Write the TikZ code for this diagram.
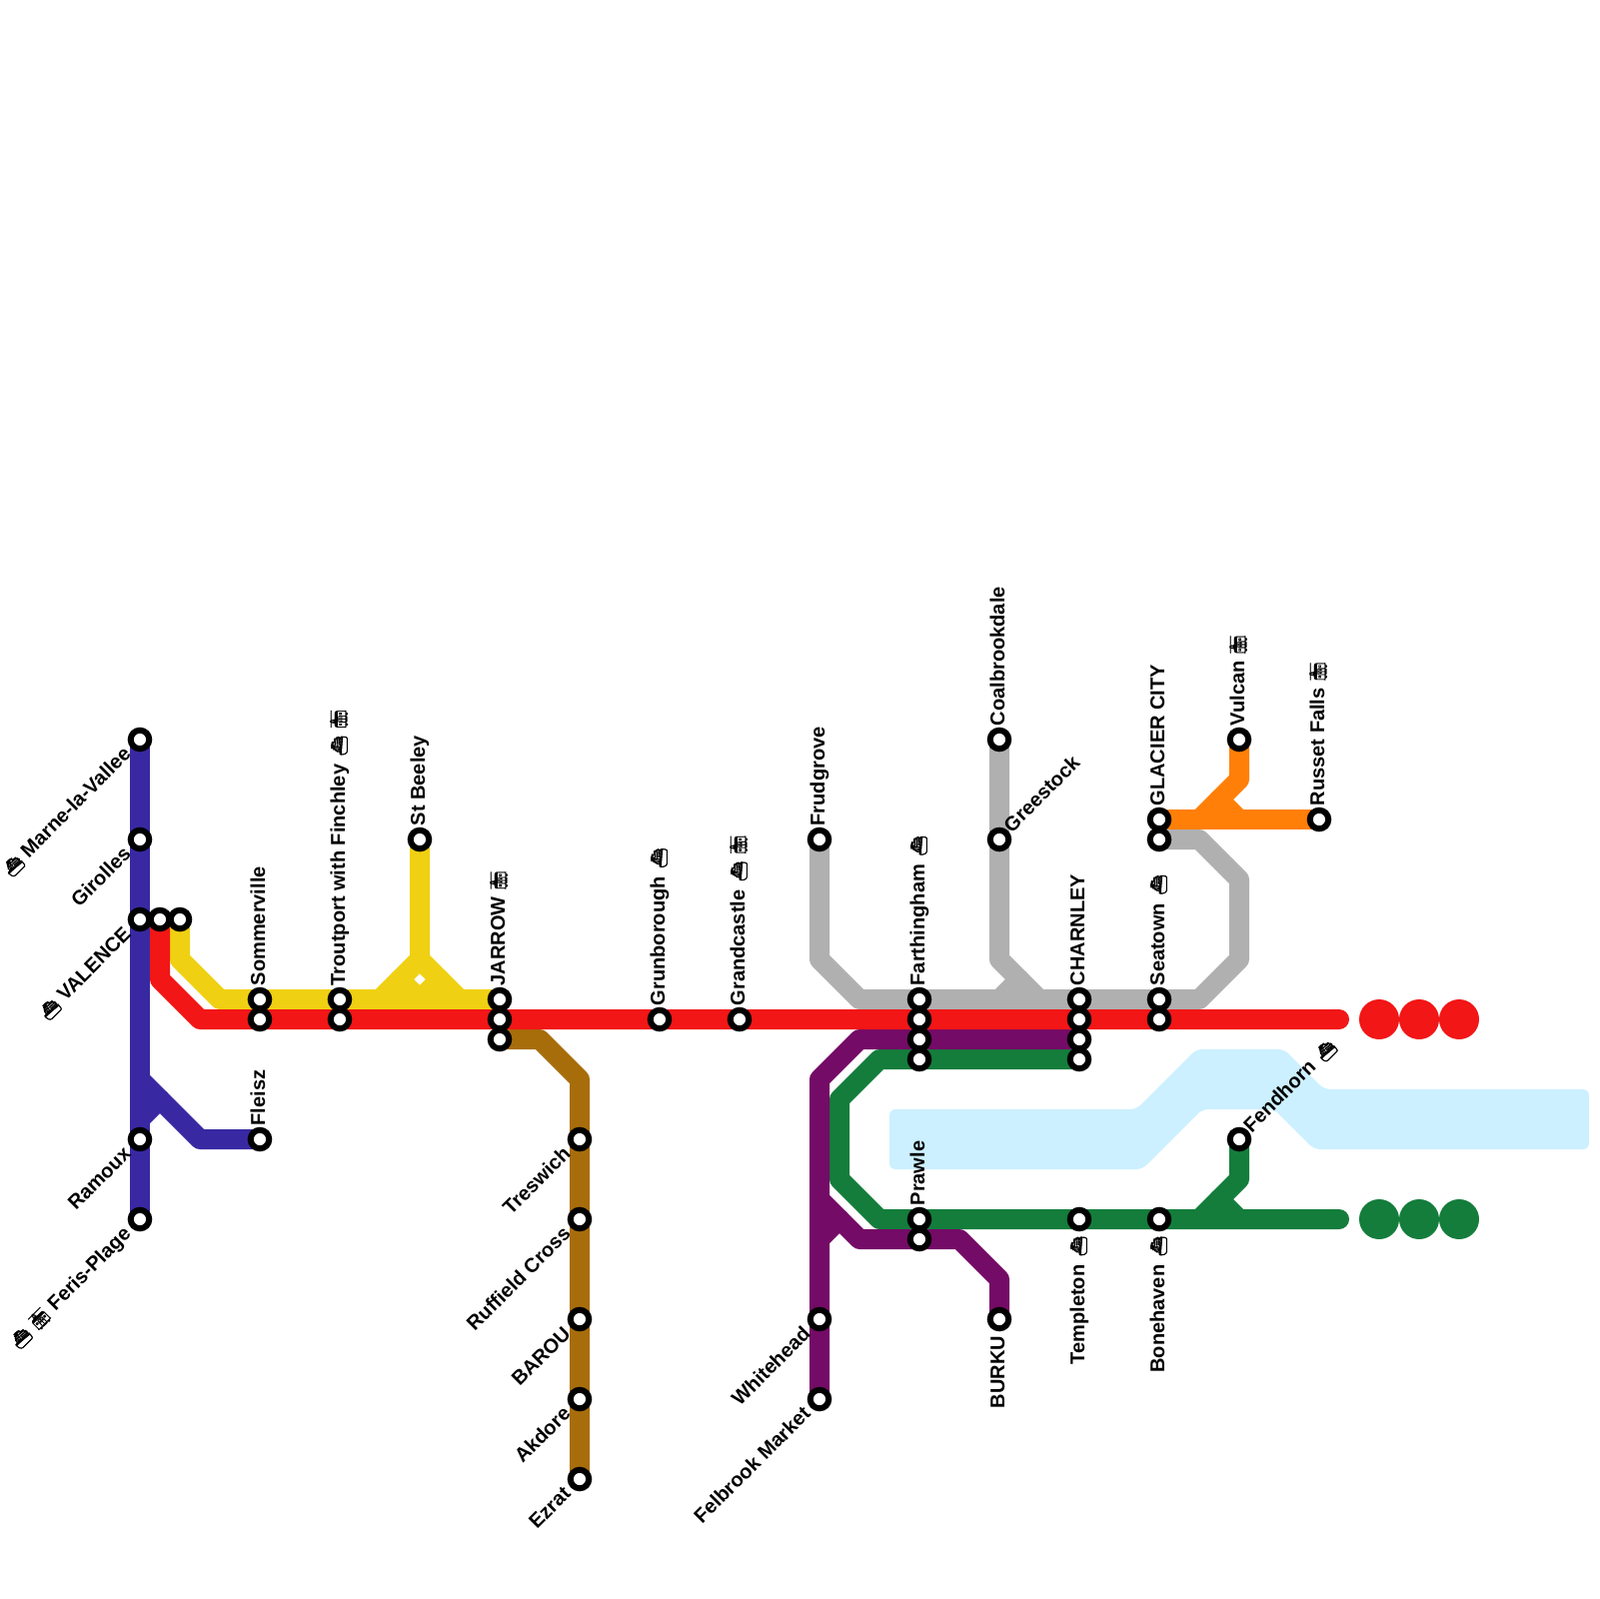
\documentclass[tikz,border=0pt]{standalone}
\usepackage{fontspec}
\usepackage{xcolor}
\usepackage{tikz}
\usetikzlibrary{positioning,backgrounds}
\setmainfont{Liberation Sans}
\newfontfamily\shipfont[FakeBold=2.5,Scale=0.8]{Noto Emoji}
\newfontfamily\tramfont[FakeBold=1,Scale=0.85]{Noto Emoji}
\definecolor{LineBlue}{HTML}{3829A3}
\definecolor{LineRed}{HTML}{F21616}
\definecolor{LineYellow}{HTML}{F0D012}
\definecolor{LineBrown}{HTML}{A86D0B}
\definecolor{LineGrey}{HTML}{B0B0B0}
\definecolor{LineOrange}{HTML}{FF7F08}
\definecolor{LineGreen}{HTML}{147D3C}
\definecolor{LinePurple}{HTML}{740B66}
\definecolor{Water}{HTML}{CCF0FF}
\newcommand{\ferry}{\kern0.3mm{\shipfont ⛴}}
\newcommand{\tram}{{\tramfont 🚋}}
\pgfdeclarelayer{lines}
\pgfsetlayers{lines,main}

\begin{document}
\begin{tikzpicture}[
  x=0.1mm,y=-0.1mm,
  stn/.style={circle,draw=black,fill=white,line width=0.6mm,minimum size=1.85mm,inner sep=0pt},
  tube/.style={line width=2mm,line cap=round,line join=round},
  dot/.style={circle,minimum size=4mm,inner sep=0pt,outer sep=0pt},
  lab/.style={font=\fontsize{5.7}{6.8}\selectfont\bfseries,inner sep=0pt},
  uplab/.style={lab,xshift=0.5mm,yshift=1.3mm,rotate=90,anchor=base west},
  downlab/.style={lab,xshift=0.5mm,yshift=-1.6mm,rotate=90,anchor=base east},
  dllab/.style={lab,xshift=-0.75mm,yshift=-1.55mm,rotate=45,anchor=base east},
  urlab/.style={lab,xshift=1.2mm,yshift=0.55mm,rotate=45,anchor=base west}
]
\useasboundingbox (0,0) rectangle (1600,1600);
% stations
\node[stn] (marne) at (140,740) {};
\node[stn] (girolles) at (140,840) {};
\node[stn] (valence) at (140,920) {};
\node[stn] (ramoux) at (140,1140) {};
\node[stn] (feris) at (140,1220) {};
\node[stn] (valred) at (160,920) {};
\node[stn] (valyel) at (180,920) {};
\node[stn] (fleisz) at (260,1140) {};
\node[stn] (somyel) at (260,1000) {};
\node[stn] (somred) at (260,1020) {};
\node[stn] (troyel) at (340,1000) {};
\node[stn] (trored) at (340,1020) {};
\node[stn] (beeley) at (420,840) {};
\node[stn] (jaryel) at (500,1000) {};
\node[stn] (jarred) at (500,1020) {};
\node[stn] (jarbrn) at (500,1040) {};
\node[stn] (grunb) at (660,1020) {};
\node[stn] (grand) at (740,1020) {};
\node[stn] (treswich) at (580,1140) {};
\node[stn] (ruffield) at (580,1220) {};
\node[stn] (barou) at (580,1320) {};
\node[stn] (akdore) at (580,1400) {};
\node[stn] (ezrat) at (580,1480) {};
\node[stn] (frud) at (820,840) {};
\node[stn] (whitehd) at (820,1320) {};
\node[stn] (felbrook) at (820,1400) {};
\node[stn] (fargry) at (920,1000) {};
\node[stn] (farred) at (920,1020) {};
\node[stn] (farpur) at (920,1040) {};
\node[stn] (fargrn) at (920,1060) {};
\node[stn] (prawgrn) at (920,1220) {};
\node[stn] (prawpur) at (920,1240) {};
\node[stn] (coal) at (1000,740) {};
\node[stn] (greest) at (1000,840) {};
\node[stn] (burku) at (1000,1320) {};
\node[stn] (chagry) at (1080,1000) {};
\node[stn] (chared) at (1080,1020) {};
\node[stn] (chapur) at (1080,1040) {};
\node[stn] (chagrn) at (1080,1060) {};
\node[stn] (templ) at (1080,1220) {};
\node[stn] (glaora) at (1160,820) {};
\node[stn] (glagry) at (1160,840) {};
\node[stn] (seagry) at (1160,1000) {};
\node[stn] (seared) at (1160,1020) {};
\node[stn] (bone) at (1160,1220) {};
\node[stn] (vulcan) at (1240,740) {};
\node[stn] (fend) at (1240,1140) {};
\node[stn] (russet) at (1320,820) {};
% line ends and forks
\coordinate (redend) at (1340,1020);
\coordinate (grnend) at (1340,1220);
\coordinate (blufork) at (140,1080);
\coordinate (blustub) at (140,1120);
\coordinate (yelfork) at (420,960);
\coordinate (yelstub) at (420,1000);
\coordinate (gryfork) at (1000,960);
\coordinate (grystub) at (1000,1000);
\coordinate (orastub) at (1240,820);
\coordinate (grnstub) at (1240,1220);
\coordinate (purfork) at (820,1200);
\coordinate (purstub) at (820,1240);
\begin{pgfonlayer}{lines}
\fill[Water,rounded corners=0.6mm] (890,1110) -- (1137,1110) -- (1197,1050) -- (1285,1050) -- (1325,1090) -- (1590,1090) -- (1590,1150) -- (1315,1150) -- (1275,1110) -- (1203,1110) -- (1143,1170) -- (890,1170) -- cycle;
% blue
\draw[tube,LineBlue] (marne.center) -- (feris.center);
\draw[tube,LineBlue] (blufork) -- ++(60,60) -- (fleisz.center);
\draw[tube,LineBlue] (blustub) -- ++(20,-20);
% yellow
\draw[tube,LineYellow] (valyel.center) -- ++(0,40) -- ++(40,40) -- (jaryel.center);
\draw[tube,LineYellow] (beeley.center) -- (yelfork) -- ++(-40,40);
\draw[tube,LineYellow] (yelfork) -- ++(40,40);
\draw[tube,LineYellow] (yelstub) -- ++(-20,-20);
\draw[tube,LineYellow] (yelstub) -- ++(20,-20);
% brown
\draw[tube,LineBrown] (jarbrn.center) -- ++(40,0) -- ++(40,40) -- (ezrat.center);
% grey
\draw[tube,LineGrey] (frud.center) -- ++(0,120) -- ++(40,40) -- ++(340,0) -- ++(40,-40) -- ++(0,-80) -- ++(-40,-40) -- (glagry.center);
\draw[tube,LineGrey] (coal.center) -- (gryfork) -- ++(40,40);
\draw[tube,LineGrey] (grystub) -- ++(20,-20);
% orange
\draw[tube,LineOrange] (glaora.center) -- (russet.center);
\draw[tube,LineOrange] (vulcan.center) -- ++(0,40) -- ++(-40,40);
\draw[tube,LineOrange] (orastub) -- ++(-20,-20);
% green
\draw[tube,LineGreen] (chagrn.center) -- ++(-200,0) -- ++(-40,40) -- ++(0,80) -- ++(40,40) -- (grnend);
\draw[tube,LineGreen] (fend.center) -- ++(0,40) -- ++(-40,40);
\draw[tube,LineGreen] (grnstub) -- ++(-20,-20);
% purple
\draw[tube,LinePurple] (chapur.center) -- ++(-220,0) -- ++(-40,40) -- (felbrook.center);
\draw[tube,LinePurple] (purfork) -- ++(40,40) -- ++(100,0) -- ++(40,40) -- (burku.center);
\draw[tube,LinePurple] (purstub) -- ++(20,-20);
% red
\draw[tube,LineRed] (valred.center) -- ++(0,60) -- ++(40,40) -- (redend);
\end{pgfonlayer}
\node[dot,fill=LineRed] (reddot1) at (1380,1020) {};
\node[dot,fill=LineRed,right=0mm of reddot1] (reddot2) {};
\node[dot,fill=LineRed,right=0mm of reddot2] (reddot3) {};
\node[dot,fill=LineGreen] (grndot1) at (1380,1220) {};
\node[dot,fill=LineGreen,right=0mm of grndot1] (grndot2) {};
\node[dot,fill=LineGreen,right=0mm of grndot2] (grndot3) {};
% labels
\node[dllab] (marnel) at (marne) {\ferry{} Marne-la-Vallee};
\node[dllab] (girollesl) at (girolles) {Girolles};
\node[dllab] (valencel) at (valence) {\ferry{} VALENCE};
\node[dllab] (ramouxl) at (ramoux) {Ramoux};
\node[dllab] (berisl) at (feris) {\ferry{} \tram{} Feris-Plage};
\node[uplab] (fleiszl) at (fleisz) {Fleisz};
\node[uplab] (soml) at (somyel) {Sommerville};
\node[uplab] (trol) at (troyel) {Troutport with Finchley \ferry{} \tram};
\node[uplab] (beeleyl) at (beeley) {St Beeley};
\node[uplab] (jarl) at (jaryel) {JARROW \tram};
\node[uplab] (grunbl) at (grunb) {Grunborough \ferry};
\node[uplab] (grandl) at (grand) {Grandcastle \ferry{} \tram};
\node[dllab] (treswichl) at (treswich) {Treswich};
\node[dllab] (ruffieldl) at (ruffield) {Ruffield Cross};
\node[dllab] (baroul) at (barou) {BAROU};
\node[dllab] (akdorel) at (akdore) {Akdore};
\node[dllab] (ezratl) at (ezrat) {Ezrat};
\node[uplab] (frudl) at (frud) {Frudgrove};
\node[dllab] (whitehdl) at (whitehd) {Whitehead};
\node[dllab] (felbrookl) at (felbrook) {Felbrook Market};
\node[uplab] (farl) at (fargry) {Farthingham \ferry};
\node[uplab] (prawl) at (prawgrn) {Prawle};
\node[uplab] (coall) at (coal) {Coalbrookdale};
\node[urlab] (greestl) at (greest) {Greestock};
\node[downlab] (burkul) at (burku) {BURKU};
\node[uplab] (chal) at (chagry) {CHARNLEY};
\node[downlab] (templl) at (templ) {Templeton \ferry};
\node[uplab] (glal) at (glaora) {GLACIER CITY};
\node[uplab] (seal) at (seagry) {Seatown \ferry};
\node[downlab] (bonel) at (bone) {Bonehaven \ferry};
\node[uplab] (vulcanl) at (vulcan) {Vulcan \tram};
\node[urlab] (fendl) at (fend) {Fendhorn \ferry};
\node[uplab] (russetl) at (russet) {Russet Falls \tram};
\end{tikzpicture}
\end{document}
